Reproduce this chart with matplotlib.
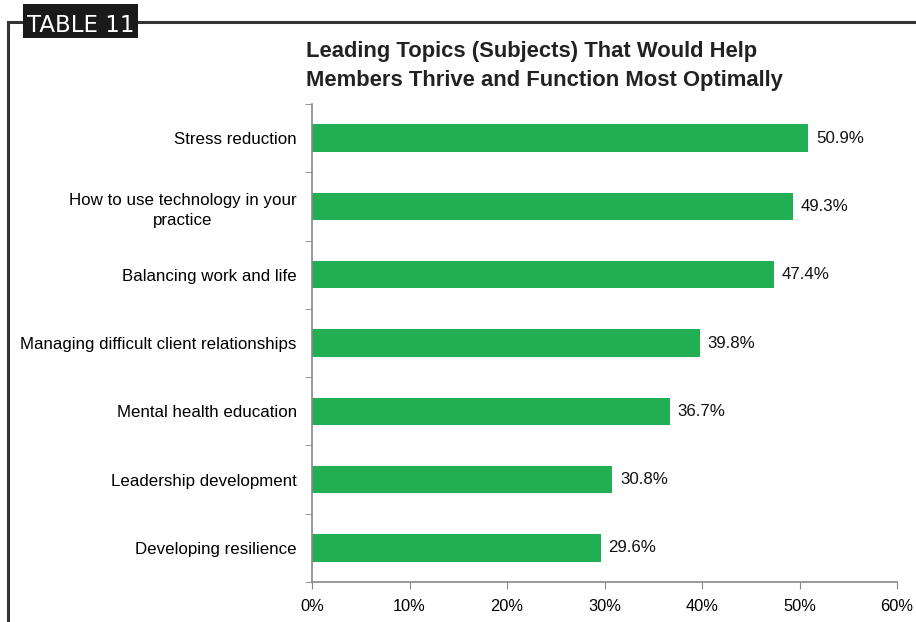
import matplotlib
matplotlib.use("Agg")
import matplotlib.pyplot as plt
from matplotlib.lines import Line2D
from matplotlib.patches import Rectangle

plt.rcParams['font.family'] = ['Liberation Sans', 'DejaVu Sans']

# data (top to bottom as shown)
topics = ["Stress reduction",
          "How to use technology in your\npractice",
          "Balancing work and life",
          "Managing difficult client relationships",
          "Mental health education",
          "Leadership development",
          "Developing resilience"]
values = [50.9, 49.3, 47.4, 39.8, 36.7, 30.8, 29.6]
xticks = [0, 10, 20, 30, 40, 50, 60]

fig = plt.figure(figsize=(9.16, 6.22), dpi=100)
W, H = 916, 622

# axes placed in pixel coords
left, right, top, bottom = 312, 897, 104, 582
ax = fig.add_axes([left / W, 1 - bottom / H, (right - left) / W, (bottom - top) / H])

pos = list(range(len(topics)))[::-1]
ax.barh(pos, values, height=0.4, color="#22ae52", edgecolor="none")
for p, v in zip(pos, values):
    ax.text(v + 0.8, p, f"{v}%", va="center", ha="left", fontsize=12.2, color="#111111")

ax.set_xlim(0, 60)
ax.set_ylim(-0.5, len(topics) - 0.5)
ax.set_xticks(xticks)
ax.set_xticklabels([f"{t}%" for t in xticks], fontsize=11.8)
ax.set_yticks(pos)
ax.set_yticklabels(topics, fontsize=12.2, ha="right", multialignment="center", linespacing=1.45)
ax.tick_params(axis="y", length=0, pad=11)
ax.tick_params(axis="x", length=5, color="#888888", pad=7)
# minor ticks between categories
ax.set_yticks([p + 0.5 for p in range(-1, len(topics))], minor=True)
ax.tick_params(axis="y", which="minor", length=5, color="#888888")
for s in ["top", "right"]:
    ax.spines[s].set_visible(False)
for s in ["left", "bottom"]:
    ax.spines[s].set_color("#888888")
    ax.spines[s].set_linewidth(1.2)

# title
fig.text(306 / W, 1 - 66 / H, "Leading Topics (Subjects) That Would Help\nMembers Thrive and Function Most Optimally",
         fontsize=15.8, fontweight="bold", color="#222222", va="center", ha="left", linespacing=1.55)

# frame
fig.add_artist(Line2D([8 / W, 8 / W], [0, 1 - 22 / H], transform=fig.transFigure, color="#333333", lw=2.2))
fig.add_artist(Line2D([8 / W, 1], [1 - 22 / H, 1 - 22 / H], transform=fig.transFigure, color="#333333", lw=2.2))
fig.add_artist(Rectangle((23 / W, 1 - 38 / H), 115 / W, 34 / H, transform=fig.transFigure,
                         facecolor="#1a1a1a", edgecolor="none", zorder=5))
fig.text(81 / W, 1 - 32 / H, "TABLE 11", fontsize=16.5, color="white", ha="center", va="baseline",
         family="DejaVu Sans", zorder=6)

fig.savefig("out.png", dpi=100)
